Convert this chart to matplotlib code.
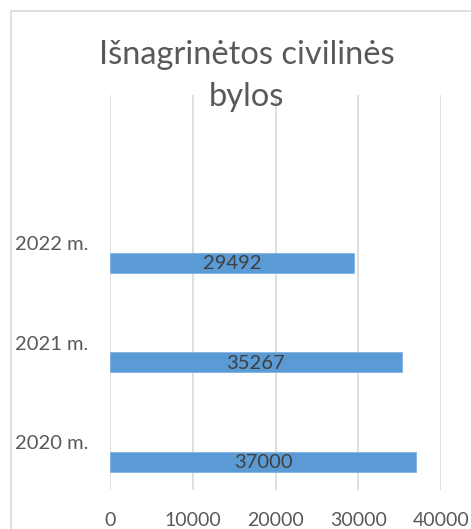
import matplotlib.pyplot as plt
from matplotlib.patches import Rectangle

# data
years = ["2020 m.", "2021 m.", "2022 m."]
cases = [37000, 35267, 29492]
xticks_vals = [0, 10000, 20000, 30000, 40000]
title = "Išnagrinėtos civilinės\nbylos"

plt.rcParams['font.family'] = ['Lato', 'DejaVu Sans']

W, H = 471, 529
fig = plt.figure(figsize=(W / 100, H / 100), dpi=100)

# chart border (Excel style, runs off the right/bottom edge)
fig.patches.append(Rectangle((11 / W, -0.1), 1.2, 1 - 11 / H + 0.1,
                             transform=fig.transFigure, fill=False,
                             edgecolor="#D9D9D9", linewidth=1.2))

ax = fig.add_axes([110 / W, 1 - 490 / H, (441 - 110) / W, (490 - 95) / H])

pos = list(range(len(years)))
bar_pos = [p - 0.196 for p in pos]
bars = ax.barh(bar_pos, cases, height=0.2, color="#5B9BD5",
               edgecolor="#7FB2E0", linewidth=0.6, zorder=3)

for b, v in zip(bars, cases):
    ax.text(b.get_width() / 2, b.get_y() + b.get_height() / 2 - 0.01, str(v),
            ha="center", va="center", fontsize=14.5, color="#404040", zorder=4)

ax.set_xlim(0, 40000)
ax.set_ylim(-0.48, 3.49)
ax.set_xticks(xticks_vals)
ax.set_xticklabels([str(t) for t in xticks_vals])
ax.set_yticks(pos)
ax.set_yticklabels(years)
ax.grid(axis="x", color="#D9D9D9", linewidth=1.2, zorder=0)
for s in ax.spines.values():
    s.set_visible(False)
ax.tick_params(axis="x", length=0, pad=16, labelsize=14, labelcolor="#595959")
ax.tick_params(axis="y", length=0, pad=0, labelsize=14.5, labelcolor="#595959")
for lbl in ax.get_yticklabels():
    lbl.set_horizontalalignment("left")
    lbl.set_x(-95 / 331)

fig.text(246.5 / W, 1 - 76 / H, title, ha="center", va="center",
         fontsize=23.5, color="#595959", linespacing=1.5)

fig.savefig("out.png", dpi=100)
